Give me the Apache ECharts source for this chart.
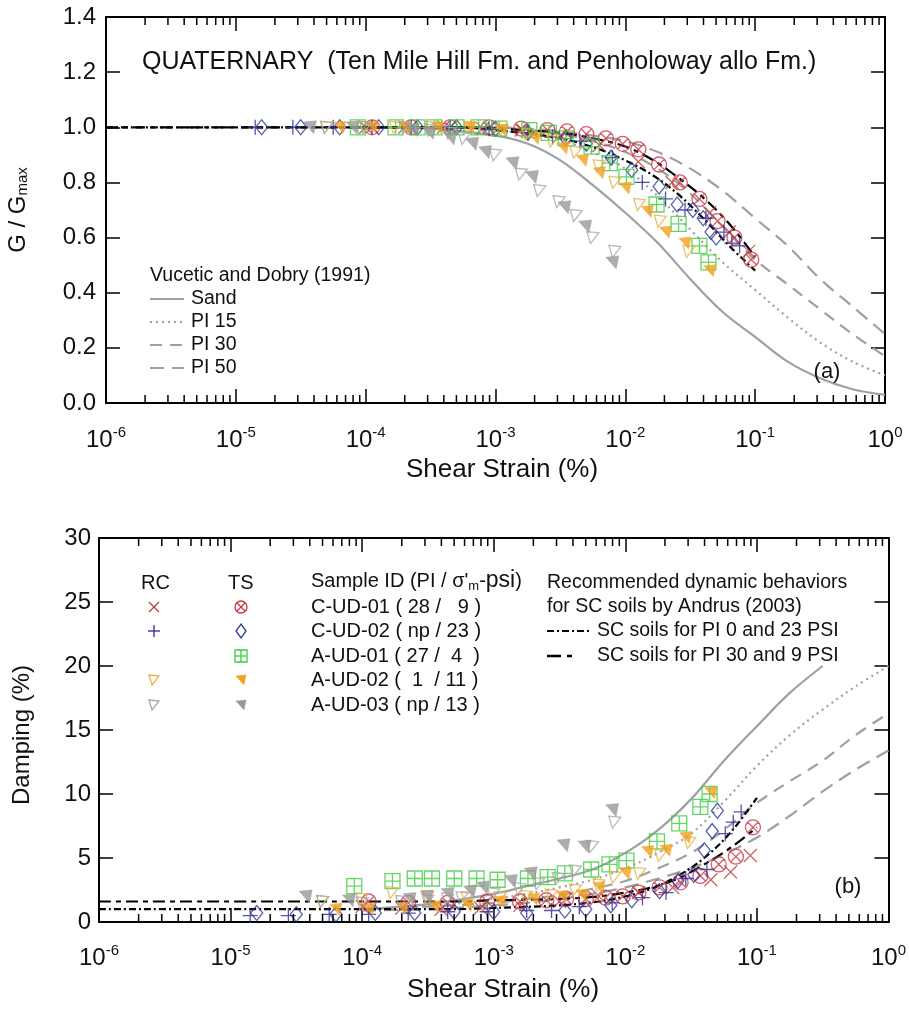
<!DOCTYPE html>
<html>
<head>
<meta charset="utf-8">
<title>G/Gmax and damping - Quaternary</title>
<script src="https://cdn.jsdelivr.net/npm/echarts@6/dist/echarts.min.js"></script>
<style>
  html, body { margin: 0; padding: 0; background: #fff; }
  #main { width: 909px; height: 1010px; }
</style>
</head>
<body>
<div id="main"></div>
<script>
// ---------- reference curves: Vucetic and Dobry (1991) ----------
var vdStrain  = [1e-4, 3.16e-4, 1e-3, 1.78e-3, 3.16e-3, 5.62e-3, 0.01, 0.0178, 0.0316, 0.0562, 0.1, 0.178, 0.316, 0.562, 1];
var vdSandG   = [1.0, 0.995, 0.97, 0.94, 0.88, 0.79, 0.69, 0.58, 0.45, 0.33, 0.24, 0.15, 0.09, 0.05, 0.03];
var vdPI15G   = [1.0, 1.0, 0.99, 0.975, 0.955, 0.91, 0.85, 0.75, 0.63, 0.51, 0.41, 0.31, 0.22, 0.15, 0.10];
var vdPI30G   = [1.0, 1.0, 1.0, 0.99, 0.975, 0.95, 0.91, 0.85, 0.76, 0.64, 0.52, 0.43, 0.34, 0.25, 0.17];
var vdPI50G   = [1.0, 1.0, 1.0, 0.995, 0.985, 0.97, 0.95, 0.91, 0.85, 0.77, 0.67, 0.57, 0.45, 0.35, 0.25];
var vdSandStrainD = [1e-4, 3.16e-4, 1e-3, 1.78e-3, 3.16e-3, 5.62e-3, 0.01, 0.0178, 0.0316, 0.0562, 0.1, 0.178, 0.316];
var vdSandD   = [1.0, 1.4, 2.2, 2.8, 3.4, 4.1, 5.4, 7.2, 9.6, 12.6, 15.3, 17.9, 20.0];
var vdPI15D   = [1.0, 1.3, 1.8, 2.2, 2.7, 3.3, 4.2, 5.4, 6.9, 9.4, 12.2, 14.6, 16.6, 18.4, 20.0];
var vdPI30D   = [1.0, 1.2, 1.5, 1.8, 2.1, 2.6, 3.2, 4.2, 5.4, 7.2, 9.3, 11.0, 12.6, 14.6, 16.3];
var vdPI50D   = [0.9, 1.0, 1.3, 1.5, 1.8, 2.2, 2.7, 3.4, 4.2, 5.3, 6.6, 8.3, 10.2, 11.9, 13.4];

// ---------- Andrus (2003) SC soils ----------
var anStrain  = [1e-6, 1e-5, 1e-4, 5.01e-4, 1e-3, 3.16e-3, 6.31e-3, 0.01, 0.0158, 0.0251, 0.0398, 0.0631, 0.1];
var anPI30G   = [1, 1, 1, 1, 0.995, 0.98, 0.955, 0.93, 0.885, 0.82, 0.745, 0.65, 0.53];
var anPI0G    = [1, 1, 1, 1, 0.99, 0.96, 0.92, 0.88, 0.83, 0.76, 0.67, 0.57, 0.48];
var anPI30D   = [1.6, 1.6, 1.6, 1.6, 1.7, 1.8, 2.0, 2.3, 2.7, 3.4, 4.5, 5.8, 7.4];
var anPI0D    = [1.0, 1.0, 1.0, 1.0, 1.1, 1.3, 1.6, 2.0, 2.6, 3.6, 5.0, 7.0, 9.7];

// ---------- test data (strain %, G/Gmax, damping %) ----------
var cud01RcStrain = [1.0e-4, 2.0e-4, 3.98e-4, 7.94e-4, 1.58e-3, 3.16e-3, 6.31e-3, 0.0126, 0.0229, 0.0447, 0.0631, 0.0891];
var cud01RcG      = [1.0, 1.0, 1.0, 0.995, 0.99, 0.97, 0.935, 0.875, 0.80, 0.69, 0.62, 0.55];
var cud01RcD      = [1.2, 1.1, 1.0, 1.1, 1.3, 1.6, 2.0, 2.3, 2.7, 3.3, 3.9, 5.2];

var cud01TsStrain = [1.12e-4, 2.24e-4, 4.47e-4, 8.91e-4, 1.58e-3, 2.51e-3, 3.55e-3, 5.01e-3, 7.08e-3, 9.55e-3, 0.0126, 0.0182, 0.0263, 0.0372, 0.0513, 0.0692, 0.0933];
var cud01TsG      = [1.0, 1.0, 1.0, 1.0, 0.995, 0.99, 0.985, 0.975, 0.96, 0.94, 0.92, 0.865, 0.80, 0.74, 0.66, 0.60, 0.52];
var cud01TsD      = [1.6, 1.5, 1.5, 1.6, 1.6, 1.7, 1.8, 1.8, 1.9, 2.0, 2.3, 2.7, 3.1, 3.6, 4.5, 5.1, 7.4];

var cud02RcStrain = [1.41e-5, 2.75e-5, 5.62e-5, 1.12e-4, 2.24e-4, 4.47e-4, 8.91e-4, 1.78e-3, 2.75e-3, 4.47e-3, 7.94e-3, 0.0135, 0.0204, 0.0288, 0.0417, 0.0575, 0.0661, 0.0759];
var cud02RcG      = [1.0, 1.0, 1.0, 1.0, 1.0, 1.0, 0.995, 0.98, 0.965, 0.95, 0.89, 0.80, 0.74, 0.70, 0.67, 0.62, 0.58, 0.57];
var cud02RcD      = [0.5, 0.5, 0.6, 0.6, 0.7, 0.8, 0.8, 0.9, 0.9, 1.2, 1.5, 1.9, 2.3, 3.4, 4.1, 6.9, 7.8, 8.6];

var cud02TsStrain = [1.58e-5, 3.16e-5, 6.31e-5, 1.26e-4, 2.51e-4, 5.01e-4, 1.0e-3, 1.78e-3, 3.47e-3, 5.01e-3, 7.76e-3, 0.0112, 0.0182, 0.0251, 0.0331, 0.0398, 0.0457, 0.0501];
var cud02TsG      = [1.0, 1.0, 1.0, 1.0, 1.0, 1.0, 0.995, 0.98, 0.96, 0.94, 0.89, 0.845, 0.785, 0.72, 0.70, 0.67, 0.62, 0.60];
var cud02TsD      = [0.7, 0.6, 0.6, 0.7, 0.7, 0.8, 0.8, 0.7, 0.9, 1.0, 1.3, 1.7, 2.4, 3.2, 3.7, 5.6, 7.1, 8.7];

var aud01TsStrain = [8.71e-5, 1.70e-4, 2.51e-4, 3.39e-4, 5.01e-4, 7.41e-4, 1.07e-3, 1.82e-3, 2.57e-3, 3.47e-3, 5.50e-3, 7.59e-3, 0.0102, 0.0174, 0.0257, 0.0372, 0.0437];
var aud01TsG      = [1.0, 1.0, 1.0, 1.0, 1.0, 1.0, 0.995, 0.99, 0.98, 0.96, 0.93, 0.87, 0.82, 0.72, 0.65, 0.57, 0.51];
var aud01TsD      = [2.8, 3.2, 3.4, 3.4, 3.4, 3.4, 3.3, 3.4, 3.5, 3.8, 4.1, 4.5, 4.8, 6.3, 7.7, 9.0, 10.0];

var aud02RcStrain = [5.01e-5, 1.0e-4, 1.70e-4, 3.16e-4, 6.31e-4, 1.12e-3, 1.78e-3, 2.75e-3, 4.17e-3, 6.31e-3, 8.32e-3, 0.0129, 0.0186, 0.0309];
var aud02RcG      = [1.0, 1.0, 1.0, 1.0, 1.0, 0.99, 0.975, 0.95, 0.91, 0.86, 0.80, 0.72, 0.66, 0.55];
var aud02RcD      = [1.6, 1.8, 2.3, 2.0, 1.9, 1.9, 2.0, 2.1, 2.5, 2.9, 3.5, 3.8, 5.2, 6.2];

var aud02TsStrain = [6.31e-5, 1.12e-4, 2.0e-4, 3.55e-4, 6.31e-4, 1.12e-3, 2.0e-3, 3.31e-3, 4.68e-3, 6.31e-3, 0.01, 0.0148, 0.0204, 0.0288, 0.0447];
var aud02TsG      = [1.0, 1.0, 1.0, 1.0, 1.0, 0.99, 0.96, 0.925, 0.88, 0.835, 0.78, 0.695, 0.62, 0.58, 0.48];
var aud02TsD      = [1.0, 1.0, 1.1, 1.2, 1.3, 1.6, 1.8, 2.0, 2.1, 2.7, 3.8, 5.5, 5.6, 6.6, 10.1];

var aud03RcStrain = [5.01e-5, 1.0e-4, 2.0e-4, 3.16e-4, 4.47e-4, 5.75e-4, 1.0e-3, 1.58e-3, 2.19e-3, 3.09e-3, 4.17e-3, 5.62e-3, 8.32e-3];
var aud03RcG      = [1.0, 1.0, 1.0, 0.99, 0.98, 0.96, 0.90, 0.83, 0.77, 0.73, 0.68, 0.60, 0.55];
var aud03RcD      = [1.6, 1.5, 1.6, 1.7, 1.8, 1.9, 2.2, 2.6, 3.0, 3.4, 4.0, 5.9, 7.8];

var aud03TsStrain = [3.72e-5, 7.94e-5, 2.29e-4, 3.09e-4, 4.47e-4, 6.61e-4, 8.32e-4, 1.35e-3, 1.91e-3, 3.39e-3, 4.90e-3, 7.94e-3];
var aud03TsG      = [1.0, 1.0, 0.99, 0.98, 0.96, 0.94, 0.91, 0.87, 0.82, 0.71, 0.64, 0.51];
var aud03TsD      = [2.0, 1.7, 1.8, 2.0, 2.2, 2.4, 2.7, 3.2, 3.8, 6.0, 5.9, 8.75];

var xTickExp = [-6, -5, -4, -3, -2, -1, 0];

// ---------- styles ----------
var FONT = '"Liberation Sans", Arial, sans-serif';
var SYM = {
  x:    'path://M0,0L10,10M10,0L0,10',
  plus: 'path://M5,0L5,10M0,5L10,5',
  ox:   'path://M5,0A5,5,0,0,1,5,10A5,5,0,0,1,5,0ZM1.6,1.6L8.4,8.4M8.4,1.6L1.6,8.4',
  dia:  'path://M5,0L10,6L5,12L0,6Z',
  box:  'path://M0,0L10,0L10,10L0,10ZM5,0L5,10M0,5L10,5',
  tro:  'path://M0,0L10,1L3,10Z',
  trf:  'path://M0,1L10,0L8,10Z'
};

var samples = [
  {s: cud01RcStrain, g: cud01RcG, d: cud01RcD, kind: 'x',    size: 13, col: '#b8403c', fill: false},
  {s: cud01TsStrain, g: cud01TsG, d: cud01TsD, kind: 'ox',   size: 15, col: '#cc3344', fill: false},
  {s: cud02RcStrain, g: cud02RcG, d: cud02RcD, kind: 'plus', size: 15, col: '#2a2a90', fill: false},
  {s: cud02TsStrain, g: cud02TsG, d: cud02TsD, kind: 'dia',  size: [12, 15], col: '#2e3898', fill: false},
  {s: aud01TsStrain, g: aud01TsG, d: aud01TsD, kind: 'box',  size: 15, col: '#3dcc3d', fill: false},
  {s: aud02RcStrain, g: aud02RcG, d: aud02RcD, kind: 'tro',  size: 12, col: '#e4b44a', fill: false},
  {s: aud02TsStrain, g: aud02TsG, d: aud02TsD, kind: 'trf',  size: 12, col: '#f2a01e', fill: true},
  {s: aud03RcStrain, g: aud03RcG, d: aud03RcD, kind: 'tro',  size: 12, col: '#a8a8a8', fill: false},
  {s: aud03TsStrain, g: aud03TsG, d: aud03TsD, kind: 'trf',  size: 13, col: '#999999', fill: true}
];

function pairs(xs, ys) {
  return xs.map(function (x, i) { return [x, ys[i]]; });
}

function logAxis(grid, pos, withLabels, margin) {
  return {
    type: 'log', logBase: 10, gridIndex: grid, position: pos, min: 1e-6, max: 1,
    axisLine: {show: true, onZero: false, lineStyle: {color: '#000', width: 2}},
    axisTick: {show: true, inside: true, length: 14, lineStyle: {color: '#000', width: 1.5}},
    minorTick: {show: false},
    splitLine: {show: false},
    axisLabel: withLabels ? {
      show: true, margin: margin,
      formatter: function (v) {
        var e = Math.round(Math.log10(v));
        return '{b|10}{s|' + e + '}';
      },
      rich: {
        b: {fontSize: 24, fontFamily: FONT, color: '#111', lineHeight: 30},
        s: {fontSize: 15, fontFamily: FONT, color: '#111', lineHeight: 8, verticalAlign: 'top'}
      }
    } : {show: false}
  };
}

function valAxis(grid, pos, max, step, withLabels, digits, margin) {
  return {
    type: 'value', gridIndex: grid, position: pos, min: 0, max: max, interval: step,
    axisLine: {show: true, onZero: false, lineStyle: {color: '#000', width: 2}},
    axisTick: {show: true, inside: true, length: 14, lineStyle: {color: '#000', width: 1.5}},
    splitLine: {show: false},
    axisLabel: withLabels ? {
      show: true, margin: margin, fontSize: 24, fontFamily: FONT, color: '#111',
      formatter: function (v) { return v.toFixed(digits); }
    } : {show: false}
  };
}

function curve(xi, yi, xs, ys, color, type, z) {
  return {
    type: 'line', xAxisIndex: xi, yAxisIndex: yi, data: pairs(xs, ys),
    showSymbol: false, symbol: 'none', smooth: 0.35, z: z,
    lineStyle: {color: color, width: 2.2, type: type}
  };
}

var series = [];
// top panel curves
series.push(curve(0, 0, vdStrain, vdSandG, '#a0a0a0', 'solid', 2));
series.push(curve(0, 0, vdStrain, vdPI15G, '#a0a0a0', [2, 4], 2));
series.push(curve(0, 0, vdStrain, vdPI30G, '#a0a0a0', [12, 8], 2));
series.push(curve(0, 0, vdStrain, vdPI50G, '#a0a0a0', [14, 8], 2));
series.push(curve(0, 0, anStrain, anPI30G, '#000', [12, 5, 5, 5], 3));
series.push(curve(0, 0, anStrain, anPI0G, '#000', [7, 3, 2, 3], 3));
// bottom panel curves
series.push(curve(2, 2, vdSandStrainD, vdSandD, '#a0a0a0', 'solid', 2));
series.push(curve(2, 2, vdStrain, vdPI15D, '#a0a0a0', [2, 4], 2));
series.push(curve(2, 2, vdStrain, vdPI30D, '#a0a0a0', [12, 8], 2));
series.push(curve(2, 2, vdStrain, vdPI50D, '#a0a0a0', [14, 8], 2));
series.push(curve(2, 2, anStrain, anPI30D, '#000', [12, 5, 5, 5], 3));
series.push(curve(2, 2, anStrain, anPI0D, '#000', [7, 3, 2, 3], 3));

samples.forEach(function (p) {
  var st = {
    color: p.fill ? p.col : 'rgba(0,0,0,0)',
    borderColor: p.col, borderWidth: p.fill ? 0.5 : 1.3
  };
  series.push({type: 'scatter', xAxisIndex: 0, yAxisIndex: 0, data: pairs(p.s, p.g),
    symbol: SYM[p.kind], symbolSize: p.size, itemStyle: st, z: 4});
  series.push({type: 'scatter', xAxisIndex: 2, yAxisIndex: 2, data: pairs(p.s, p.d),
    symbol: SYM[p.kind], symbolSize: p.size, itemStyle: st, z: 4});
});

var chart = echarts.init(document.getElementById('main'), null, {renderer: 'canvas'});
chart.setOption({
  animation: false,
  backgroundColor: '#fff',
  grid: [
    {left: 106, right: 24, top: 17, height: 386},
    {left: 99, right: 12, top: 538, height: 384}
  ],
  xAxis: [
    logAxis(0, 'bottom', true, 22),
    logAxis(0, 'top', false),
    logAxis(1, 'bottom', true, 21),
    logAxis(1, 'top', false)
  ],
  yAxis: [
    valAxis(0, 'left', 1.4, 0.2, true, 1, 10),
    valAxis(0, 'right', 1.4, 0.2, false, 1),
    valAxis(1, 'left', 30, 5, true, 0, 8),
    valAxis(1, 'right', 30, 5, false, 0)
  ],
  series: series
});

// ---------- decorations: minor log ticks, titles, legends ----------
var g = [];
function txt(x, y, text, size, align, extra) {
  var o = {type: 'text', x: x, y: y, z: 10, style: {
    text: text, fontSize: size, fontFamily: FONT, fill: '#111',
    align: align || 'left', textAlign: align || 'left', verticalAlign: 'middle', textVerticalAlign: 'middle'
  }};
  if (extra) { for (var k in extra) { o.style[k] = extra[k]; } }
  return o;
}
function seg(x1, y1, x2, y2, color, width, dash) {
  return {type: 'line', z: 10, shape: {x1: x1, y1: y1, x2: x2, y2: y2},
    style: {stroke: color, lineWidth: width, lineDash: dash || null}};
}
// legend marker built from plain graphic primitives
function marker(p, cx, cy) {
  var c = p.col, out = [], w = 1.3;
  var st = {fill: 'none', stroke: c, lineWidth: w};
  if (p.kind === 'x') {
    out.push(seg(cx - 5, cy - 5, cx + 5, cy + 5, c, w), seg(cx + 5, cy - 5, cx - 5, cy + 5, c, w));
  } else if (p.kind === 'plus') {
    out.push(seg(cx - 6, cy, cx + 6, cy, c, w), seg(cx, cy - 6, cx, cy + 6, c, w));
  } else if (p.kind === 'ox') {
    out.push({type: 'circle', z: 10, shape: {cx: cx, cy: cy, r: 6}, style: st});
    out.push(seg(cx - 4, cy - 4, cx + 4, cy + 4, c, w), seg(cx + 4, cy - 4, cx - 4, cy + 4, c, w));
  } else if (p.kind === 'dia') {
    out.push({type: 'polygon', z: 10, shape: {points: [[cx, cy - 7], [cx + 5, cy], [cx, cy + 7], [cx - 5, cy]]}, style: st});
  } else if (p.kind === 'box') {
    out.push({type: 'rect', z: 10, shape: {x: cx - 6, y: cy - 6, width: 12, height: 12}, style: st});
    out.push(seg(cx - 6, cy, cx + 6, cy, c, w), seg(cx, cy - 6, cx, cy + 6, c, w));
  } else if (p.kind === 'tro') {
    out.push({type: 'polygon', z: 10, shape: {points: [[cx - 5, cy - 5], [cx + 5, cy - 4], [cx - 2, cy + 5]]}, style: st});
  } else {
    out.push({type: 'polygon', z: 10, shape: {points: [[cx - 5, cy - 4], [cx + 5, cy - 5], [cx + 3, cy + 5]]},
      style: {fill: c, stroke: c, lineWidth: 0.5}});
  }
  return out;
}

[[0, 0], [2, 2]].forEach(function (ax) {
  var yb = chart.convertToPixel({yAxisIndex: ax[1]}, 0);
  var yt = chart.convertToPixel({yAxisIndex: ax[1]}, ax[1] === 0 ? 1.4 : 30);
  for (var i = 0; i < xTickExp.length - 1; i++) {
    for (var k = 2; k <= 9; k++) {
      var x = chart.convertToPixel({xAxisIndex: ax[0]}, k * Math.pow(10, xTickExp[i]));
      g.push(seg(x, yb, x, yb - 8, '#000', 1.5));
      g.push(seg(x, yt, x, yt + 8, '#000', 1.5));
    }
  }
});

// axis titles
g.push(txt(502, 470, 'Shear Strain (%)', 26, 'center'));
g.push(txt(503, 990, 'Shear Strain (%)', 26, 'center'));
var gTitle = txt(18, 210, 'G / G{sub|max}', 24, 'center', {
  rich: {sub: {fontSize: 15, fontFamily: FONT, fill: '#111', verticalAlign: 'bottom', lineHeight: 10}}
});
gTitle.rotation = Math.PI / 2;
g.push(gTitle);
var dTitle = txt(22, 735, 'Damping (%)', 24, 'center');
dTitle.rotation = Math.PI / 2;
g.push(dTitle);

// top panel annotations
g.push(txt(142, 62, 'QUATERNARY  (Ten Mile Hill Fm. and Penholoway allo Fm.)', 25));
g.push(txt(827, 372, '(a)', 22, 'center'));
g.push(txt(150, 276, 'Vucetic and Dobry (1991)', 19.5));
var vdRows = [['Sand', 299, null], ['PI 15', 322, [2, 4]], ['PI 30', 345, [12, 8]], ['PI 50', 368, [14, 8]]];
vdRows.forEach(function (r) {
  g.push(seg(150, r[1], 184, r[1], '#a0a0a0', 2.2, r[2]));
  g.push(txt(191, r[1], r[0], 19.5));
});

// bottom panel legend
g.push(txt(848, 887, '(b)', 22, 'center'));
g.push(txt(141, 583, 'RC', 20));
g.push(txt(228, 583, 'TS', 20));
g.push(txt(311, 581, "Sample ID (PI / \u03c3'{sub|m}-{big|psi})", 20, 'left', {
  rich: {
    sub: {fontSize: 13, fontFamily: FONT, fill: '#111', verticalAlign: 'bottom', lineHeight: 10},
    big: {fontSize: 23, fontFamily: FONT, fill: '#111'}
  }
}));
var rowY = [607, 631, 656, 680, 705];
var rowText = ['C-UD-01 ( 28 /   9 )', 'C-UD-02 ( np / 23 )', 'A-UD-01 ( 27 /  4  )', 'A-UD-02 (  1  / 11 )', 'A-UD-03 ( np / 13 )'];
var rowSym = [[0, 1], [2, 3], [null, 4], [5, 6], [7, 8]];
rowY.forEach(function (y, i) {
  g.push(txt(311, y, rowText[i], 20));
  if (rowSym[i][0] !== null) {
    g = g.concat(marker(samples[rowSym[i][0]], 154, y));
  }
  g = g.concat(marker(samples[rowSym[i][1]], 241, y));
});
g.push(txt(547, 583, 'Recommended dynamic behaviors', 19.5));
g.push(txt(547, 607, 'for SC soils by Andrus (2003)', 19.5));
g.push(seg(547, 631, 591, 631, '#000', 2, [7, 3, 2, 3]));
g.push(txt(597, 631, 'SC soils for PI 0 and 23 PSI', 19.5));
g.push(seg(547, 656, 591, 656, '#000', 2.5, [14, 6, 5, 50]));
g.push(txt(597, 656, 'SC soils for PI 30 and 9 PSI', 19.5));

chart.setOption({graphic: g});
</script>
</body>
</html>
